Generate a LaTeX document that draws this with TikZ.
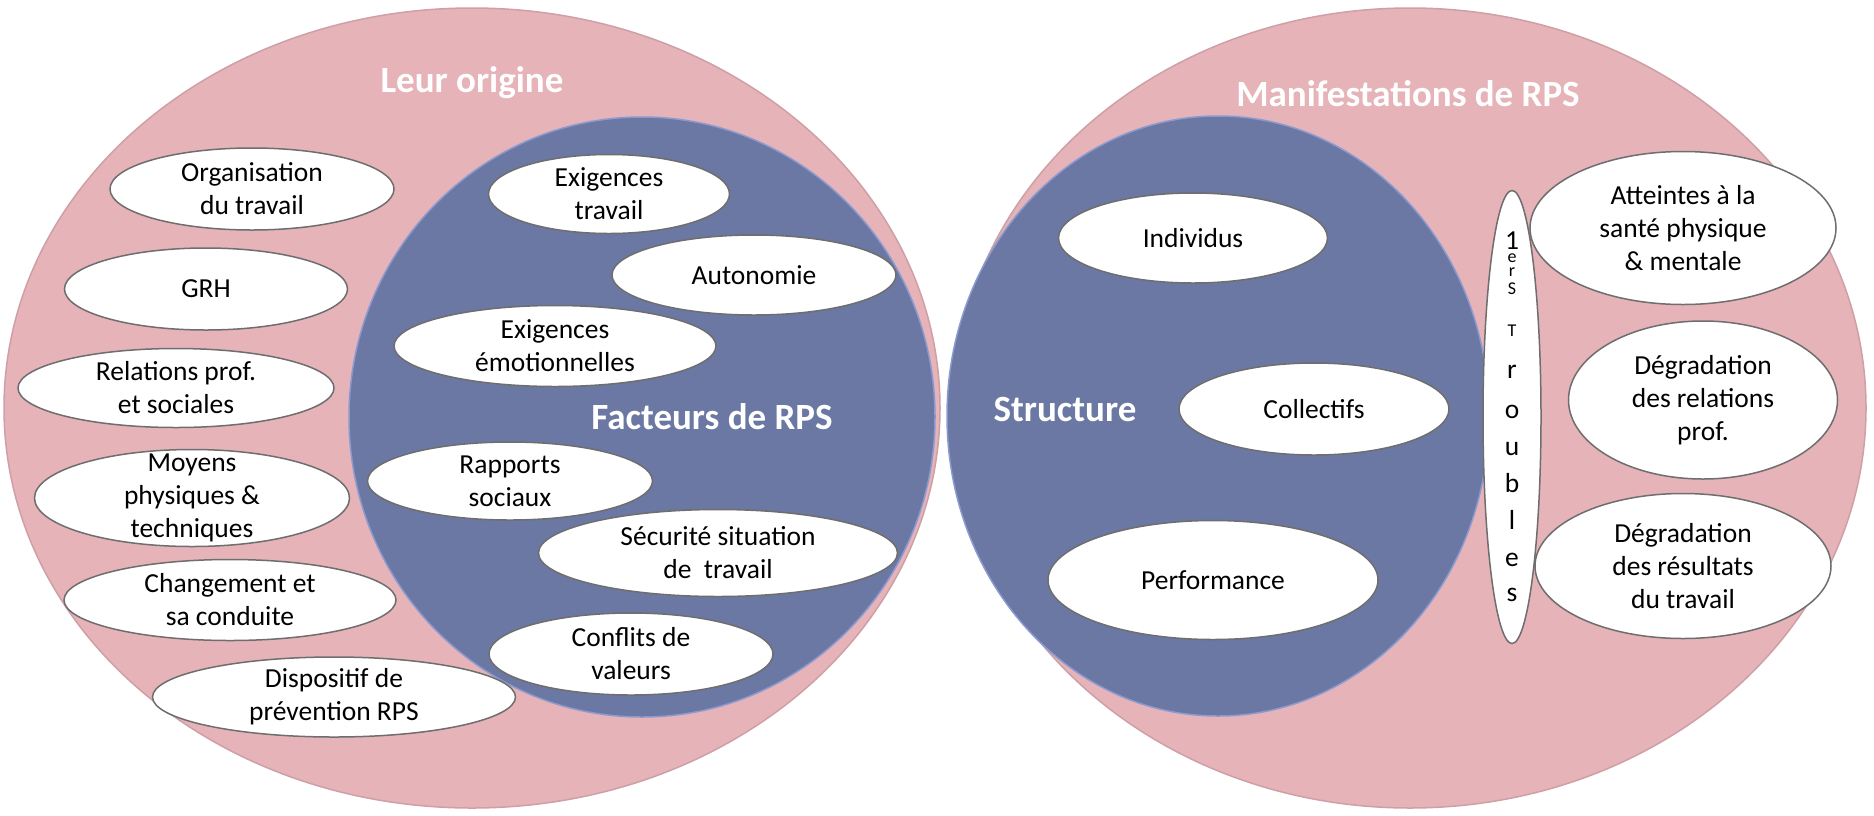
\documentclass[tikz,border=0pt]{standalone}
\usepackage{fontspec}
\setmainfont{Carlito}
\usetikzlibrary{shapes.geometric}
\definecolor{rose}{RGB}{229,179,184}
\definecolor{roseedge}{RGB}{206,160,166}
\definecolor{bleu}{RGB}{107,120,163}
\definecolor{bleuedge}{RGB}{138,154,208}
\definecolor{bubbleedge}{RGB}{110,110,110}
\newcommand{\lettrepetite}[1]{{\fontsize{18pt}{0pt}\selectfont #1}}
\newcommand{\policeserree}{\fontsize{27.5pt}{0pt}\selectfont\lineskiplimit=-1000pt\relax\lineskip=0pt\relax}
\tikzset{
  zone/.style = {ellipse, inner sep=0pt, line width=1.5pt},
  pinkzone/.style = {zone, fill=rose, draw=roseedge},
  bluezone/.style = {zone, fill=bleu, draw=bleuedge},
  bubble/.style = {ellipse, draw=bubbleedge, fill=white, line width=1.5pt,
    inner xsep=0pt, inner ysep=-100pt, align=center,
    font=\fontsize{27.5}{33}\selectfont},
  heading/.style = {anchor=base, text=white, font=\fontsize{37}{44}\selectfont\bfseries}
}
\begin{document}
\begin{tikzpicture}[x=1pt,y=-1pt]
  \useasboundingbox (0,0) rectangle (1874,815);
  % the four areas
  \node[pinkzone, minimum width=936, minimum height=800] (origine) at (472,408) {};
  \node[bluezone, minimum width=586, minimum height=600] (facteurs) at (642,417) {};
  \node[pinkzone, minimum width=912, minimum height=800] (manif) at (1410,408) {};
  \node[bluezone, minimum width=542, minimum height=600] (structure) at (1218,416) {};
  % headings
  \node[heading] (origine-t) at (472,92) {Leur origine};
  \node[heading] (facteurs-t) at (712,429) {Facteurs de RPS};
  \node[heading] (manif-t) at (1408,106) {Manifestations de RPS};
  \node[heading] (structure-t) at (1065,421) {Structure};
  % origins
  \node[bubble, minimum width=284, minimum height=82] (orga) at (252,189) {Organisation\\du travail};
  \node[bubble, minimum width=283, minimum height=82] (grh) at (206,289) {GRH};
  \node[bubble, minimum width=316, minimum height=79] (relations) at (176,388) {Relations prof.\\et sociales};
  \node[bubble, minimum width=315, minimum height=97] (moyens) at (192,498) {Moyens\\physiques \&\\techniques};
  \node[bubble, minimum width=332, minimum height=81] (changement) at (230,600) {Changement et\\sa conduite};
  \node[bubble, minimum width=363, minimum height=80] (dispositif) at (334,697) {Dispositif de\\prévention RPS};
  % factors
  \node[bubble, minimum width=241, minimum height=79] (exigtrav) at (609,194) {Exigences\\travail};
  \node[bubble, minimum width=284, minimum height=80] (autonomie) at (754,275) {Autonomie};
  \node[bubble, minimum width=322, minimum height=81] (exigemo) at (555,346) {Exigences\\émotionnelles};
  \node[bubble, minimum width=285, minimum height=78] (rapports) at (510,481) {Rapports\\sociaux};
  \node[bubble, minimum width=359, minimum height=87] (securite) at (718,553) {Sécurité situation\\de~ travail};
  \node[bubble, minimum width=284, minimum height=82] (conflits) at (631,654) {Conflits de\\valeurs};
  % structure
  \node[bubble, minimum width=269, minimum height=90] (individus) at (1193,238) {Individus};
  \node[bubble, minimum width=270, minimum height=92] (collectifs) at (1314,409) {Collectifs};
  \node[bubble, minimum width=330, minimum height=119] (performance) at (1213,580) {Performance};
  % manifestations
  \node[bubble, minimum width=58, minimum height=453, font=\policeserree] (troubles) at (1512,417)
    {1\\[13pt]\lettrepetite{e}\\[14pt]\lettrepetite{r}\\[18pt]\lettrepetite{S}\\[42pt]\lettrepetite{T}\\[42pt]r\\[40pt]o\\[37pt]u\\[37pt]b\\[37pt]l\\[37pt]e\\[35pt]s};
  \node[bubble, minimum width=306, minimum height=153] (atteintes) at (1683,228) {Atteintes à la\\santé physique\\\& mentale};
  \node[bubble, minimum width=269, minimum height=158] (degrel) at (1703,400) {Dégradation\\des relations\\prof.};
  \node[bubble, minimum width=296, minimum height=145] (degres) at (1683,566) {Dégradation\\des résultats\\du travail};
\end{tikzpicture}
\end{document}
